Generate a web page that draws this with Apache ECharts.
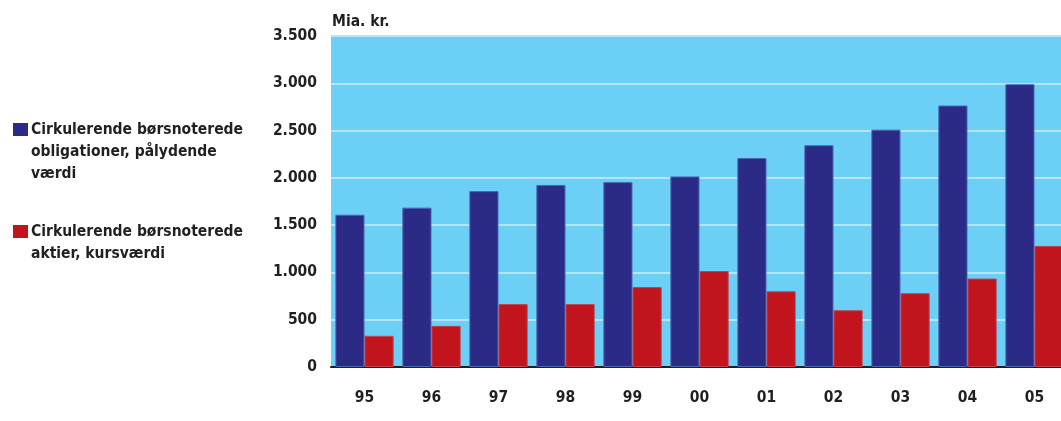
<!DOCTYPE html>
<html><head><meta charset="utf-8">
<script src="https://cdn.jsdelivr.net/npm/echarts@6/dist/echarts.min.js"></script>
<style>html,body{margin:0;padding:0;background:#fff;}#c{width:1061px;height:421px;}</style>
</head><body><div id="c"></div>
<script>
const categories = ['95','96','97','98','99','00','01','02','03','04','05'];
const obligationer = [1610, 1685, 1860, 1925, 1955, 2015, 2210, 2345, 2510, 2765, 2990];
const aktier = [330, 435, 665, 665, 845, 1015, 800, 600, 780, 935, 1280];
const seriesNames = ['Cirkulerende børsnoterede\nobligationer, pålydende\nværdi', 'Cirkulerende børsnoterede\naktier, kursværdi'];
const colors = ['#2b2a86', '#c1141c'];
const unitLabel = 'Mia. kr.';

const FONT = '"Liberation Sans Narrow", "DejaVu Sans Condensed", sans-serif';
const fmt = v => String(v).replace(/\B(?=(\d{3})+(?!\d))/g, '.');

const chart = echarts.init(document.getElementById('c'), null, {renderer: 'canvas'});
const legendGraphics = [];
const legendTops = [123, 225];
seriesNames.forEach((n, i) => {
  legendGraphics.push({type: 'rect', left: 13, top: legendTops[i], shape: {width: 15, height: 13}, style: {fill: colors[i]}});
  legendGraphics.push({type: 'text', left: 31, top: legendTops[i] - 4, style: {text: n, font: 'bold 15.5px ' + FONT, fill: '#231f20', lineHeight: 22}});
});
chart.setOption({
  animation: false,
  textStyle: {fontFamily: FONT},
  grid: {left: 331, top: 36, bottom: 54, right: -7, outerBoundsMode: 'none', containLabel: false, show: true, backgroundColor: '#6ccff6', borderWidth: 0},
  graphic: legendGraphics,
  xAxis: {
    type: 'category', data: categories,
    axisLine: {lineStyle: {color: '#231f20', width: 2}},
    axisTick: {show: false},
    axisLabel: {color: '#231f20', fontWeight: 'bold', fontSize: 15.5, fontFamily: FONT, margin: 23}
  },
  yAxis: {
    type: 'value', min: 0, max: 3500, interval: 500,
    name: unitLabel, nameLocation: 'end', nameGap: 6,
    nameTextStyle: {color: '#231f20', fontWeight: 'bold', fontSize: 15.5, fontFamily: FONT, align: 'left', padding: [0, 0, 0, 1]},
    axisLine: {show: false}, axisTick: {show: false},
    axisLabel: {color: '#231f20', fontWeight: 'bold', fontSize: 15.5, fontFamily: FONT, margin: 14, formatter: fmt},
    splitLine: {lineStyle: {color: '#b5e5f8', width: 2}}
  },
  series: [
    {name: seriesNames[0], type: 'bar', data: obligationer, barGap: '0%', barCategoryGap: '13%', itemStyle: {color: colors[0], borderColor: '#4a67b0', borderWidth: 1}},
    {name: seriesNames[1], type: 'bar', data: aktier, barGap: '0%', barCategoryGap: '13%', itemStyle: {color: colors[1], borderColor: '#c04050', borderWidth: 1}}
  ]
});
</script></body></html>
